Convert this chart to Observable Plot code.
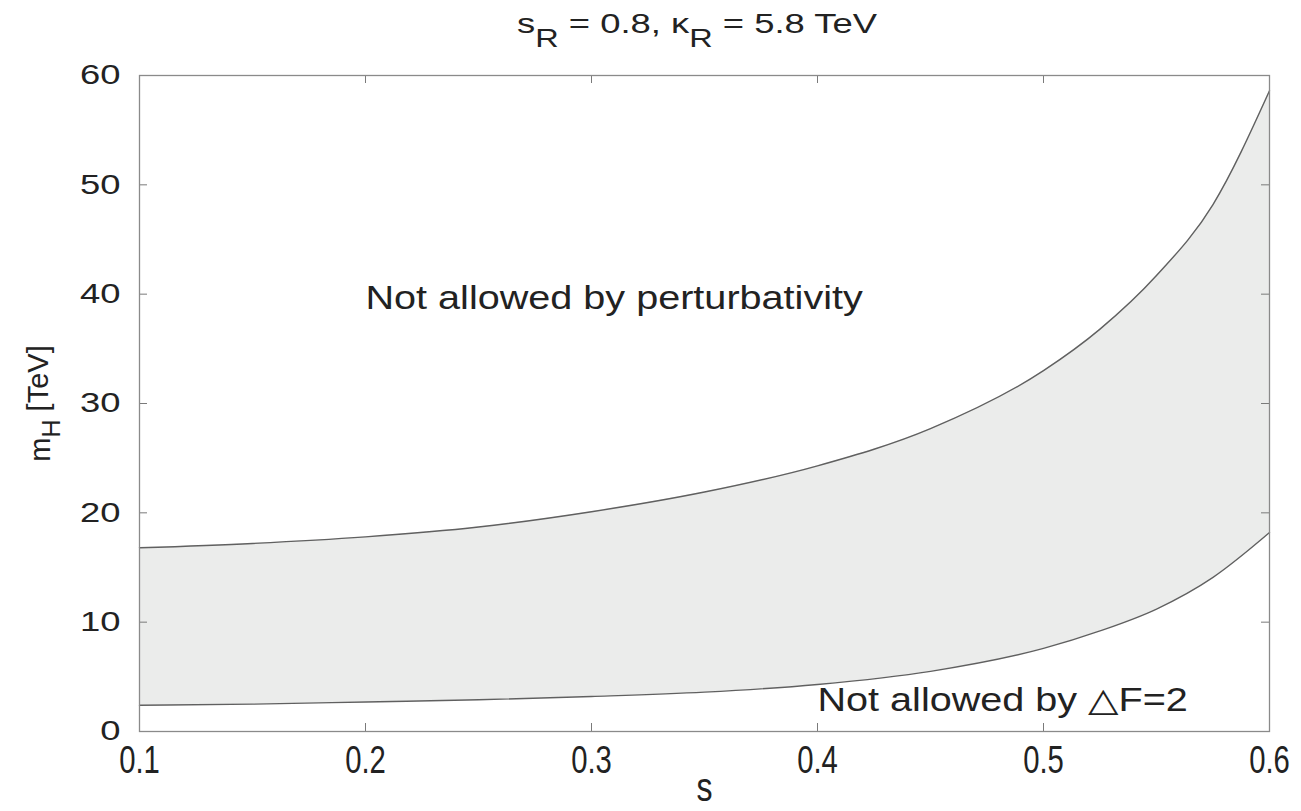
<!DOCTYPE html>
<html>
<head>
<meta charset="utf-8">
<script src="https://cdn.jsdelivr.net/npm/d3@7"></script>
<script src="https://cdn.jsdelivr.net/npm/@observablehq/plot@0.6"></script>
<style>
  html, body { margin: 0; padding: 0; background: #fff; }
  #title {
    height: 50px;
    width: 1301px;
    position: relative;
    font-family: "Liberation Sans", Arial, sans-serif;
    font-size: 28px;
    line-height: 28px;
    color: #222;
  }
  #title span.t {
    position: absolute; left: 697px; top: 10px;
    transform: translateX(-50%) scaleX(1.3);
    white-space: nowrap;
  }
  #title sub { font-size: 25px; vertical-align: -14px; line-height: 0; }
</style>
</head>
<body>
<div id="title"><span class="t">s<sub>R</sub> = 0.8, κ<sub>R</sub> = 5.8 TeV</span></div>
<div id="chart"></div>
<script>
// Mixing angle s and the allowed band of heavy Higgs masses m_H (TeV)
const sValues = [0.1, 0.15, 0.2, 0.25, 0.3, 0.35, 0.4, 0.45, 0.5, 0.525, 0.55, 0.575, 0.6];
// upper edge: perturbativity bound
const mHUpper = [16.8, 17.2, 17.8, 18.7, 20.1, 21.9, 24.3, 27.7, 33.0, 36.8, 41.7, 48.2, 58.6];
// lower edge: ΔF=2 bound
const mHLower = [2.4, 2.5, 2.7, 2.9, 3.2, 3.6, 4.3, 5.5, 7.6, 9.2, 11.2, 14.1, 18.2];

const xTicks = [0.1, 0.2, 0.3, 0.4, 0.5, 0.6];
const yTicks = [0, 10, 20, 30, 40, 50, 60];
const xDomain = [0.1, 0.6];
const yDomain = [0, 60];

const regionLabels = [
  {s: 0.2, m: 39.6, text: "Not allowed by perturbativity"},
  {s: 0.4, m: 2.8, text: "Not allowed by \u25B3F=2"}
];

const rows = sValues.map((s, i) => ({s, hi: mHUpper[i], lo: mHLower[i]}));

const W = 1301, H = 761;
const mt = 25, mb = 80, ml = 139, mr = 32;
const innerH = H - mt - mb, innerW = W - ml - mr;
const tickPx = 8;
// tick length expressed in each scale's own units
const tickY = tickPx / innerH * (yDomain[1] - yDomain[0]);
const tickX = tickPx / innerW * (xDomain[1] - xDomain[0]);

const font = "'Liberation Sans', Arial, sans-serif";
const ink = "#222";
const tickColor = "#7a7a7a";

const chart = Plot.plot({
  width: W,
  height: H,
  marginTop: mt,
  marginBottom: mb,
  marginLeft: ml,
  marginRight: mr,
  style: {fontFamily: font, color: ink, background: "#fff"},
  x: {domain: xDomain},
  y: {domain: yDomain},
  marks: [
    Plot.areaY(rows, {x: "s", y1: "lo", y2: "hi", fill: "#ebeceb", curve: "monotone-x"}),
    Plot.lineY(rows, {x: "s", y: "hi", stroke: "#606060", strokeWidth: 1.4, curve: "monotone-x"}),
    Plot.lineY(rows, {x: "s", y: "lo", stroke: "#606060", strokeWidth: 1.4, curve: "monotone-x"}),
    // inward ticks on all four sides of the box
    Plot.ruleX(xTicks, {x: d => d, y1: yDomain[0], y2: yDomain[0] + tickY, stroke: tickColor}),
    Plot.ruleX(xTicks, {x: d => d, y1: yDomain[1] - tickY, y2: yDomain[1], stroke: tickColor}),
    Plot.ruleY(yTicks, {y: d => d, x1: xDomain[0], x2: xDomain[0] + tickX, stroke: tickColor}),
    Plot.ruleY(yTicks, {y: d => d, x1: xDomain[1] - tickX, x2: xDomain[1], stroke: tickColor}),
    Plot.frame({stroke: "#8a8a8a", strokeWidth: 1.3}),
    Plot.axisX({ticks: xTicks, tickSize: 0, tickPadding: 15, tickFormat: d => String(d),
      fontSize: 38, fill: ink, label: null, className: "xt"}),
    Plot.axisY({ticks: yTicks, tickSize: 0, tickPadding: 19, tickFormat: d => String(d),
      fontSize: 28, fill: ink, label: null, className: "yt"}),
    Plot.text(["s"], {frameAnchor: "bottom", dy: 69, fontSize: 40, fill: ink, className: "xlab"}),
    Plot.text(["m_H [TeV]"], {frameAnchor: "left", textAnchor: "middle", dx: -99, rotate: -90,
      fontSize: 29, fill: ink, className: "ylab"}),
    Plot.text(regionLabels, {x: "s", y: "m", text: "text", textAnchor: "start", fontSize: 33,
      fill: ink, className: "region"})
  ]
});

document.getElementById("chart").appendChild(chart);

// Typeset the subscript in the y-axis label
d3.select(chart).selectAll("g.ylab text").each(function() {
  const t = d3.select(this);
  t.text(null);
  t.append("tspan").text("m");
  t.append("tspan").attr("dy", "0.4em").attr("font-size", "25").text("H");
  t.append("tspan").attr("dy", "-0.4em").text(" [TeV]");
});

// Horizontal stretch of glyphs around each text's own anchor point;
// the vertical offsets (often in em) are left untouched
function stretch(selection, sx) {
  selection.each(function() {
    const t = d3.select(this);
    const xa = t.attr("x");
    const x = xa && !/em$/.test(xa) ? +xa : 0;
    const tr = t.attr("transform") || "";
    t.attr("transform", `${tr} translate(${x},0) scale(${sx},1) translate(${-x},0)`);
  });
}
stretch(d3.select(chart).selectAll("g.xt text"), 0.77);
stretch(d3.select(chart).selectAll("g.xlab text"), 0.8);
stretch(d3.select(chart).selectAll("g.yt text"), 1.3);
stretch(d3.select(chart).selectAll("g.region text"), 1.2);
</script>
</body>
</html>
